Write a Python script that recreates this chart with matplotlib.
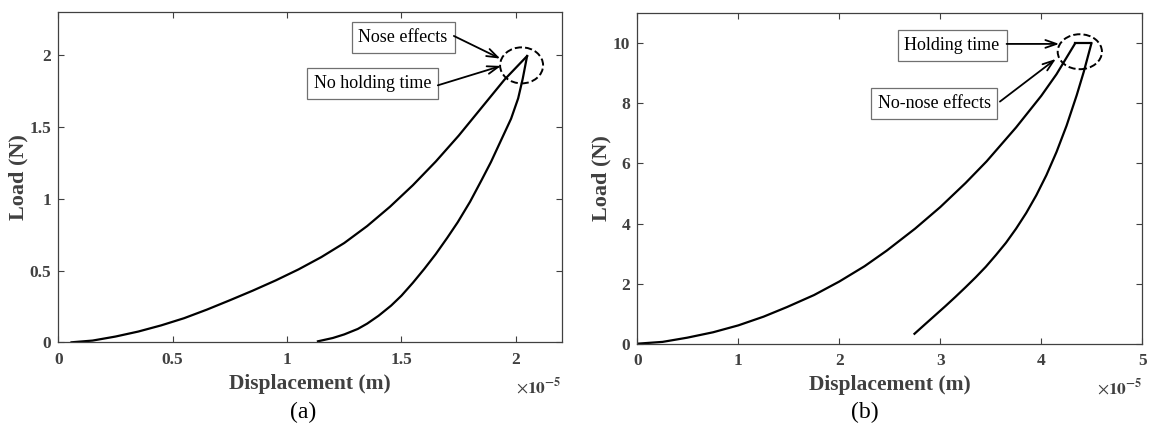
import matplotlib
matplotlib.use("Agg")
import matplotlib.pyplot as plt
from matplotlib.patches import Ellipse

# ---------------- data (x in units of 1e-5 m, load in N) ----------------
a_load_x = [0.058, 0.15, 0.25, 0.35, 0.45, 0.55, 0.65, 0.75, 0.85, 0.95, 1.05,
            1.15, 1.25, 1.35, 1.45, 1.55, 1.65, 1.75, 1.85, 1.95, 2.049]
a_load_y = [0.0, 0.012, 0.04, 0.075, 0.118, 0.168, 0.228, 0.293, 0.36, 0.431, 0.508,
            0.594, 0.692, 0.81, 0.945, 1.095, 1.26, 1.44, 1.635, 1.83, 1.995]
a_unload_x = [2.049, 2.030, 2.01, 1.979, 1.93, 1.891, 1.85, 1.8, 1.746, 1.7, 1.65,
              1.6, 1.55, 1.5, 1.455, 1.4, 1.35, 1.309, 1.25, 1.2, 1.135]
a_unload_y = [1.995, 1.837, 1.70, 1.558, 1.39, 1.256, 1.13, 0.98, 0.837, 0.728, 0.615,
              0.512, 0.415, 0.325, 0.256, 0.185, 0.13, 0.093, 0.055, 0.03, 0.007]

b_load_x = [0.0, 0.25, 0.494, 0.75, 1.0, 1.25, 1.482, 1.75, 2.0, 2.25, 2.47, 2.75,
            3.0, 3.25, 3.458, 3.75, 3.999, 4.15, 4.335]
b_load_y = [0.0, 0.06, 0.2, 0.38, 0.61, 0.9, 1.22, 1.62, 2.07, 2.58, 3.10, 3.83,
            4.55, 5.35, 6.07, 7.2, 8.25, 8.97, 10.0]
b_hold_x = [4.335, 4.496]
b_hold_y = [10.0, 10.0]
b_unload_x = [4.496, 4.42, 4.35, 4.25, 4.15, 4.05, 3.95, 3.85, 3.75, 3.65, 3.55,
              3.45, 3.35, 3.25, 3.15, 3.05, 2.95, 2.85, 2.744]
b_unload_y = [10.0, 9.05, 8.27, 7.26, 6.38, 5.61, 4.94, 4.35, 3.83, 3.36, 2.95,
              2.56, 2.21, 1.88, 1.56, 1.25, 0.95, 0.65, 0.33]

a_xticks = [0, 0.5, 1, 1.5, 2]
a_xticklabels = ["0", "0.5", "1", "1.5", "2"]
a_yticks = [0, 0.5, 1, 1.5, 2]
a_yticklabels = ["0", "0.5", "1", "1.5", "2"]
b_xticks = [0, 1, 2, 3, 4, 5]
b_xticklabels = ["0", "1", "2", "3", "4", "5"]
b_yticks = [0, 2, 4, 6, 8, 10]
b_yticklabels = ["0", "2", "4", "6", "8", "10"]

xlabel = "Displacement (m)"
ylabel = "Load (N)"
panel_labels = ["(a)", "(b)"]

# ---------------- style ----------------
plt.rcParams['font.family'] = ['Liberation Serif', 'DejaVu Serif']
plt.rcParams['mathtext.fontset'] = 'stix'
GRAY = '#404040'

fig = plt.figure(figsize=(11.49, 4.34), dpi=100)
axA = fig.add_axes([0.0507, 0.2113, 0.4381, 0.7604])
axB = fig.add_axes([0.5547, 0.2081, 0.4395, 0.7613])


def style_axes(ax, xlim, ylim, xt, xtl, yt, ytl):
    ax.set_xlim(*xlim)
    ax.set_ylim(*ylim)
    ax.set_xticks(xt)
    ax.set_xticklabels(xtl)
    ax.set_yticks(yt)
    ax.set_yticklabels(ytl)
    for s in ax.spines.values():
        s.set_color(GRAY)
        s.set_linewidth(0.9)
    ax.tick_params(direction='in', length=4, width=0.8, color=GRAY,
                   top=True, right=True, labelcolor=GRAY, labelsize=12.5)
    ax.tick_params(axis='x', pad=7)
    ax.tick_params(axis='y', pad=5)
    for lab in ax.get_xticklabels() + ax.get_yticklabels():
        lab.set_fontweight('bold')
    ax.set_xlabel(xlabel, fontsize=15.5, fontweight='bold', color=GRAY, labelpad=4)
    ax.set_ylabel(ylabel, fontsize=16, fontweight='bold', color=GRAY, labelpad=1)
    ax.text(1.0, -0.135, r'$\times\mathbf{10}^{\mathbf{-5}}$', transform=ax.transAxes,
            ha='right', va='center', fontsize=12.5, color=GRAY)


style_axes(axA, (0, 2.2), (0, 2.3), a_xticks, a_xticklabels, a_yticks, a_yticklabels)
style_axes(axB, (0, 5), (0, 11), b_xticks, b_xticklabels, b_yticks, b_yticklabels)

LW = 1.6
axA.plot(a_load_x, a_load_y, color='black', lw=LW)
axA.plot(a_unload_x, a_unload_y, color='black', lw=LW)
axB.plot(b_load_x, b_load_y, color='black', lw=LW)
axB.plot(b_hold_x, b_hold_y, color='black', lw=LW)
axB.plot(b_unload_x, b_unload_y, color='black', lw=LW)

axA.add_patch(Ellipse((2.025, 1.93), 0.188, 0.251, fill=False, ls='--', lw=1.4, color='black'))
axB.add_patch(Ellipse((4.381, 9.72), 0.438, 1.164, fill=False, ls='--', lw=1.4, color='black'))

box = dict(boxstyle='square,pad=0.38', fc='white', ec='#707070', lw=0.9)
arrow = dict(arrowstyle='->,head_length=0.8,head_width=0.28', color='black', lw=1.3,
             shrinkA=0, shrinkB=0)

# panel (a) annotations
axA.text(1.507, 2.123, "Nose effects", ha='center', va='center', fontsize=13, bbox=box)
axA.annotate("", xy=(1.932, 1.977), xytext=(1.729, 2.135), arrowprops=arrow)
axA.text(1.375, 1.805, "No holding time", ha='center', va='center', fontsize=13, bbox=box)
axA.annotate("", xy=(1.935, 1.926), xytext=(1.659, 1.791), arrowprops=arrow)

# panel (b) annotations
axB.text(3.116, 9.92, "Holding time", ha='center', va='center', fontsize=13, bbox=box)
axB.annotate("", xy=(4.177, 9.98), xytext=(3.656, 9.98), arrowprops=arrow)
axB.text(2.938, 7.99, "No-nose effects", ha='center', va='center', fontsize=13, bbox=box)
axB.annotate("", xy=(4.144, 9.48), xytext=(3.59, 8.06), arrowprops=arrow)

fig.text(303 / 1149, 1 - 412 / 434, panel_labels[0], ha='center', va='center', fontsize=17)
fig.text(865 / 1149, 1 - 412 / 434, panel_labels[1], ha='center', va='center', fontsize=17)

fig.savefig("out.png", dpi=100)
